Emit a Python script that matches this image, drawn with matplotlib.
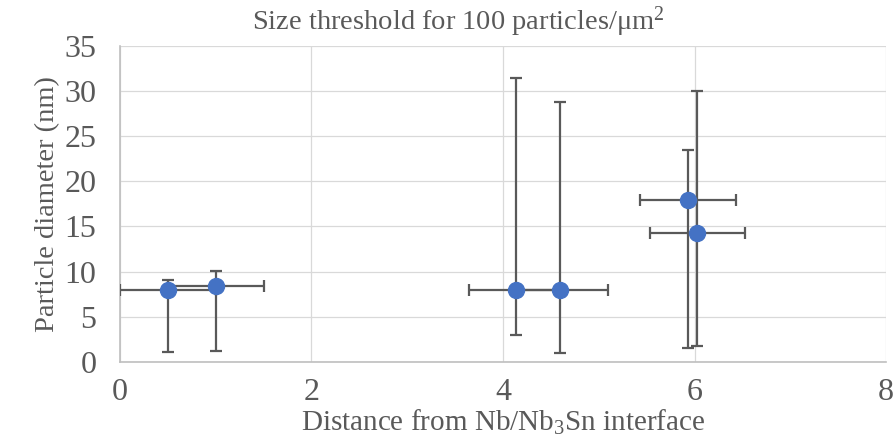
import numpy as np
import matplotlib.pyplot as plt

# distance from interface, particle diameter and error bar extents
distance = [0.5, 1.0, 4.14, 4.6, 5.93, 6.03]
diameter = [8.0, 8.4, 8.0, 8.0, 17.9, 14.25]
x_err = [0.5, 0.5, 0.5, 0.5, 0.5, 0.5]
y_err_low = [6.9, 7.2, 5.0, 7.0, 16.4, 12.55]
y_err_high = [1.1, 1.7, 23.4, 20.8, 5.6, 15.75]

x_ticks = [0, 2, 4, 6, 8]
y_ticks = [0, 5, 10, 15, 20, 25, 30, 35]

plt.rcParams['font.family'] = ['Liberation Serif', 'DejaVu Serif']
plt.rcParams['mathtext.fontset'] = 'custom'
plt.rcParams['mathtext.rm'] = 'Liberation Serif'
plt.rcParams['mathtext.it'] = 'Liberation Serif:italic'
text_color = '#595959'

fig = plt.figure(figsize=(8.95, 4.45), dpi=100)
ax = fig.add_axes([0.134, 0.187, 0.856, 0.71])

ax.errorbar(distance, diameter, xerr=x_err, yerr=[y_err_low, y_err_high],
            fmt='o', color='#4472C4', markersize=11.5, ecolor='#595959',
            elinewidth=1.6, capsize=4.5, capthick=1.6, zorder=3)

ax.set_xlim(0, 8)
ax.set_ylim(0, 35)
ax.set_xticks(x_ticks)
ax.set_yticks(y_ticks)
ax.grid(color='#D9D9D9', linewidth=0.9)
ax.set_axisbelow(True)
for s in ['top', 'right']:
    ax.spines[s].set_visible(False)
for s in ['left', 'bottom']:
    ax.spines[s].set_color('#BFBFBF')
    ax.spines[s].set_linewidth(1.2)
ax.tick_params(length=0, labelsize=23, labelcolor=text_color)
ax.tick_params(axis='x', pad=12)
ax.tick_params(axis='y', pad=17)

ax.set_xlabel(r'Distance from Nb/Nb$_\mathrm{3}$Sn interface', fontsize=21, color=text_color, labelpad=0)
ax.set_ylabel('Particle diameter (nm)', fontsize=20.5, color=text_color, labelpad=3)
fig.text(0.512, 0.952, r'Size threshold for 100 particles/μm$^\mathrm{2}$', fontsize=20.5,
         color=text_color, ha='center', va='center')

plt.savefig('out.png', dpi=100)
